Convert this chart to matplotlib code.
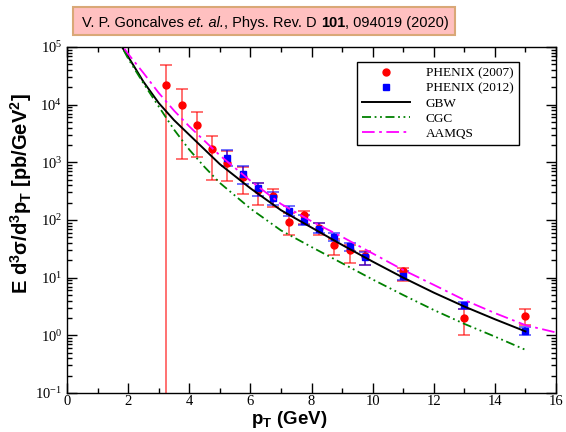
import matplotlib
matplotlib.use("Agg")
import matplotlib.pyplot as plt
from matplotlib.lines import Line2D
from matplotlib.patches import Rectangle
from matplotlib.ticker import MultipleLocator, LogLocator, NullFormatter

plt.rcParams['font.family'] = 'Liberation Serif'
plt.rcParams['mathtext.fontset'] = 'stix'
# used only by the axis labels (math_fontfamily='custom')
plt.rcParams['mathtext.rm'] = 'Liberation Sans:bold'
plt.rcParams['mathtext.it'] = 'Liberation Sans:bold'
plt.rcParams['mathtext.bf'] = 'Liberation Sans:bold'

# PHENIX (2007): pT, value, lower and upper end of the error bar
phx07_pt = [3.25, 3.75, 4.25, 4.75, 5.25, 5.75, 6.25, 6.75, 7.25, 7.75, 8.25,
            8.75, 9.25, 9.75, 11.0, 13.0, 15.0]
phx07_y = [2.2e4, 1.0e4, 4.5e3, 1.7e3, 990, 550, 325, 265, 93, 123, 72,
           37, 30, 24, 13, 2.0, 2.2]
phx07_lo = [1e-3, 1.15e3, 1.23e3, 490, 470, 280, 185, 170, 56, 85, 54,
            25, 18, 16.5, 8.7, 1.02, 1.52]
phx07_hi = [4.8e4, 1.85e4, 7.6e3, 2.9e3, 1.55e3, 830, 445, 340, 130, 142, 87,
            46, 37, 29.5, 15, 2.9, 2.9]

# PHENIX (2012)
phx12_pt = [5.25, 5.75, 6.25, 6.75, 7.25, 7.75, 8.25, 8.75, 9.25, 9.75,
            11.0, 13.0, 15.0]
phx12_y = [1.17e3, 630, 355, 245, 145, 98, 71, 50, 35, 23, 10.7, 3.3, 1.2]
phx12_lo = [850, 420, 263, 182, 117, 83, 59, 44, 29.5, 16.6, 9.1, 2.85, 1.0]
phx12_hi = [1.64e3, 870, 436, 309, 178, 123, 87, 60, 40.7, 28.2, 13.2, 3.76, 1.38]

# model curves
gbw_pt = [1.5, 1.8, 2.0, 2.5, 3.0, 3.5, 4.0, 5.0, 6.0, 7.0, 8.0, 9.0, 10.0,
          11.0, 12.0, 13.0, 14.0, 15.0]
gbw = [2.0e5, 1.0e5, 6.8e4, 2.5e4, 1.07e4, 5.4e3, 3.0e3, 930, 355, 148, 74,
       37, 19, 10, 5.5, 3.16, 1.9, 1.17]

cgc_pt = [1.5, 1.8, 2.0, 2.5, 3.0, 3.5, 4.0, 4.5, 5.0, 6.0, 7.0, 8.0, 9.0,
          10.0, 11.0, 12.0, 13.0, 14.0, 15.0]
cgc = [2.0e5, 1.0e5, 6.3e4, 2.35e4, 9.3e3, 3.7e3, 1.66e3, 830, 440, 158, 66,
       34, 17.8, 9.3, 5.0, 2.75, 1.58, 0.95, 0.56]

aamqs_pt = [1.5, 1.84, 2.0, 2.5, 3.0, 3.5, 4.0, 5.0, 6.0, 7.0, 8.0, 9.0,
            10.0, 11.0, 12.0, 13.0, 14.0, 15.0, 16.0]
aamqs = [2.2e5, 1.0e5, 7.6e4, 3.55e4, 1.6e4, 7.9e3, 4.2e3, 1.32e3, 480, 190,
         95, 51, 26.3, 13.6, 7.5, 4.1, 2.43, 1.5, 1.12]

fig = plt.figure(figsize=(5.66, 4.32), dpi=100)
ax = fig.add_axes([0.1184, 0.0903, 0.8640, 0.8009])

err07 = [[y - lo for y, lo in zip(phx07_y, phx07_lo)],
         [hi - y for y, hi in zip(phx07_y, phx07_hi)]]
err12 = [[y - lo for y, lo in zip(phx12_y, phx12_lo)],
         [hi - y for y, hi in zip(phx12_y, phx12_hi)]]

ax.errorbar(phx07_pt, phx07_y, yerr=err07, fmt='o', color='red', ms=5,
            ecolor=(1, 0, 0, 0.6), elinewidth=1.3, capsize=4.5, capthick=1.3,
            zorder=2)
ax.errorbar(phx12_pt, phx12_y, yerr=err12, fmt='s', color='blue', ms=4.5,
            ecolor=(0, 0, 1, 0.6), elinewidth=1.3, capsize=4.5, capthick=1.3,
            zorder=2)

ax.plot(gbw_pt, gbw, color='black', lw=1.4, zorder=4)
ax.plot(cgc_pt, cgc, color='#008000', lw=1.3, dashes=(5, 2, 1, 2, 1, 2), zorder=4)
ax.plot(aamqs_pt, aamqs, color='#ff00ff', lw=1.3, dashes=(7, 2.5, 1.5, 2.5), zorder=4)

ax.set_yscale('log')
ax.set_xlim(0, 16)
ax.set_ylim(0.1, 1e5)
ax.xaxis.set_major_locator(MultipleLocator(2))
ax.xaxis.set_minor_locator(MultipleLocator(1))
ax.yaxis.set_major_locator(LogLocator(base=10, numticks=10))
ax.yaxis.set_minor_locator(LogLocator(base=10, subs=range(2, 10), numticks=100))
ax.yaxis.set_minor_formatter(NullFormatter())
ax.tick_params(which='both', direction='in', top=True, right=True,
               labelsize=10.5, width=1)
ax.tick_params(which='major', length=7)
ax.tick_params(which='minor', length=3.5)
ax.tick_params(axis='x', pad=1.5)
for s in ax.spines.values():
    s.set_linewidth(1)

fig.text(289 / 566, 1 - 420 / 432, r'p$_\mathrm{T}$ (GeV)', ha='center',
         va='center', fontsize=13.5, fontweight='bold', family='Liberation Sans',
         math_fontfamily='custom')
fig.text(21 / 566, 1 - 194 / 432,
         r'E d$^\mathrm{3}\sigma$/d$^\mathrm{3}$p$_\mathrm{T}$ [pb/GeV$^\mathrm{2}$]',
         rotation=90, ha='center', va='center', fontsize=14.5,
         fontweight='bold', family='Liberation Sans', math_fontfamily='custom')

handles = [
    Line2D([], [], marker='o', color='red', ls='none', ms=5),
    Line2D([], [], marker='s', color='blue', ls='none', ms=4.5),
    Line2D([], [], color='black', lw=1.4),
    Line2D([], [], color='#008000', lw=1.3, dashes=(5, 2, 1, 2, 1, 2)),
    Line2D([], [], color='#ff00ff', lw=1.3, dashes=(7, 2.5, 1.5, 2.5)),
]
labels = ['PHENIX (2007)', 'PHENIX (2012)', 'GBW', 'CGC', 'AAMQS']
leg = ax.legend(handles, labels, loc='upper left', bbox_to_anchor=(0.593, 0.957),
                borderaxespad=0,
                prop={'family': 'Liberation Serif', 'size': 9.5},
                frameon=True, fancybox=False, framealpha=1, edgecolor='black',
                handlelength=3.6, handletextpad=1.2, labelspacing=0.22,
                borderpad=0.4, markerscale=1.0)
leg.get_frame().set_linewidth(1)

# reference banner on top, built piece by piece (mixed italic / bold)
fig.add_artist(Rectangle((73 / 566, 1 - 35 / 432), 382 / 566, 28 / 432,
                         transform=fig.transFigure, facecolor='#ffc0c0',
                         edgecolor='#d9a877', lw=1.5, zorder=0))
parts = [('V. P. Goncalves ', 'normal', 'normal'),
         ('et. al.', 'italic', 'normal'),
         (', Phys. Rev. D ', 'normal', 'normal'),
         ('101', 'normal', 'bold'),
         (', 094019 (2020)', 'normal', 'normal')]
renderer = fig.canvas.get_renderer()
x_px = 82
for s, style, weight in parts:
    t = fig.text(x_px / 566, 1 - 27 / 432, s, family='Liberation Sans',
                 fontsize=10.5, style=style, weight=weight,
                 va='baseline', ha='left')
    x_px += t.get_window_extent(renderer).width

fig.savefig('out.png', dpi=100)
